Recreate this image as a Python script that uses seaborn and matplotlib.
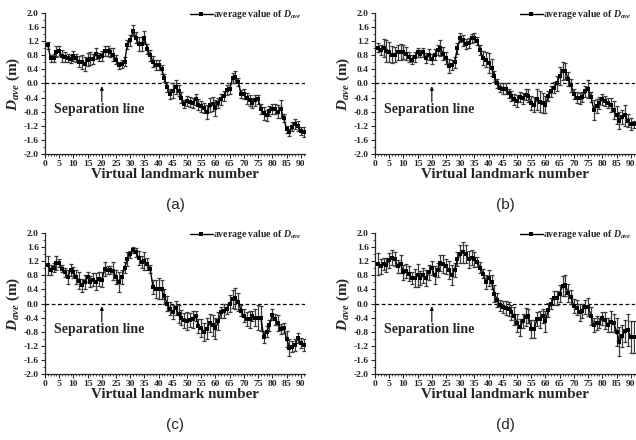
import numpy as np
import matplotlib
matplotlib.use("Agg")
import matplotlib.pyplot as plt
import seaborn as sns
from matplotlib.ticker import MultipleLocator

landmarks = list(range(1, 92))

vals_a = [1.08,0.72,0.72,0.90,0.92,0.78,0.75,0.72,0.70,0.78,
          0.72,0.62,0.62,0.55,0.68,0.70,0.70,0.85,0.75,0.78,
          0.92,0.92,0.88,0.82,0.68,0.52,0.55,0.62,1.10,1.22,
          1.50,1.30,1.12,1.12,1.30,0.98,0.80,0.62,0.52,0.52,
          0.40,0.15,-0.10,-0.30,-0.20,-0.10,-0.20,-0.40,-0.58,-0.50,
          -0.52,-0.55,-0.45,-0.60,-0.65,-0.70,-0.82,-0.62,-0.58,-0.70,
          -0.55,-0.45,-0.35,-0.18,-0.15,0.15,0.18,0.05,-0.30,-0.30,
          -0.42,-0.48,-0.55,-0.48,-0.45,-0.72,-0.85,-0.90,-0.78,-0.72,
          -0.72,-0.80,-0.72,-0.98,-1.30,-1.38,-1.22,-1.15,-1.20,-1.35,
          -1.38]
err_a = [0.10,0.10,0.12,0.15,0.15,0.18,0.15,0.12,0.12,0.15,
         0.12,0.15,0.20,0.20,0.18,0.18,0.15,0.15,0.12,0.15,
         0.15,0.15,0.12,0.18,0.12,0.10,0.12,0.12,0.12,0.15,
         0.15,0.15,0.20,0.20,0.18,0.15,0.15,0.15,0.15,0.15,
         0.12,0.12,0.15,0.15,0.20,0.20,0.15,0.15,0.12,0.15,
         0.15,0.15,0.15,0.15,0.15,0.15,0.20,0.20,0.20,0.22,
         0.15,0.15,0.15,0.15,0.15,0.15,0.18,0.12,0.12,0.15,
         0.15,0.15,0.15,0.15,0.12,0.15,0.18,0.15,0.15,0.15,
         0.15,0.18,0.25,0.12,0.10,0.10,0.12,0.15,0.15,0.12,
         0.15]

vals_b = [1.02,0.95,1.00,0.92,0.90,0.82,0.82,0.88,0.90,0.90,
          0.85,0.75,0.68,0.75,0.88,0.85,0.88,0.72,0.82,0.70,
          0.82,0.95,1.00,0.85,0.72,0.50,0.52,0.60,1.00,1.30,
          1.22,1.12,1.15,1.28,1.30,1.20,0.95,0.72,0.68,0.58,
          0.45,0.20,0.00,-0.12,-0.15,-0.15,-0.28,-0.35,-0.45,-0.50,
          -0.38,-0.42,-0.32,-0.35,-0.55,-0.60,-0.45,-0.52,-0.55,-0.60,
          -0.35,-0.22,-0.12,0.00,0.22,0.35,0.35,0.12,-0.05,-0.30,
          -0.40,-0.42,-0.38,-0.22,-0.15,-0.38,-0.75,-0.65,-0.55,-0.45,
          -0.50,-0.55,-0.60,-0.75,-0.90,-1.05,-0.95,-0.90,-1.05,-1.15,
          -1.15]
err_b = [0.12,0.15,0.25,0.30,0.28,0.25,0.22,0.20,0.22,0.20,
         0.18,0.15,0.12,0.15,0.12,0.10,0.12,0.15,0.15,0.15,
         0.15,0.15,0.22,0.18,0.18,0.20,0.15,0.15,0.15,0.12,
         0.15,0.15,0.15,0.12,0.12,0.12,0.15,0.20,0.22,0.28,
         0.25,0.15,0.12,0.12,0.15,0.15,0.12,0.15,0.15,0.18,
         0.15,0.15,0.15,0.18,0.20,0.22,0.30,0.30,0.28,0.25,
         0.15,0.15,0.15,0.20,0.25,0.25,0.22,0.20,0.18,0.15,
         0.15,0.15,0.15,0.15,0.25,0.15,0.28,0.20,0.18,0.15,
         0.15,0.15,0.20,0.25,0.25,0.25,0.20,0.30,0.18,0.18,
         0.10]

vals_c = [1.08,0.95,1.02,1.15,1.15,0.98,0.88,0.75,0.95,0.88,
          0.75,0.65,0.52,0.60,0.75,0.62,0.68,0.62,0.70,0.68,
          0.98,0.95,0.95,0.92,0.75,0.62,0.75,1.02,1.25,1.40,
          1.52,1.45,1.30,1.18,1.20,1.12,0.98,0.48,0.42,0.42,
          0.40,0.20,0.00,-0.15,-0.25,-0.12,-0.30,-0.40,-0.48,-0.50,
          -0.48,-0.45,-0.35,-0.65,-0.70,-0.80,-0.72,-0.55,-0.62,-0.70,
          -0.50,-0.25,-0.20,-0.15,0.00,0.12,0.15,0.05,-0.20,-0.35,
          -0.45,-0.45,-0.35,-0.40,-0.40,-0.42,-0.95,-0.80,-0.62,-0.32,
          -0.45,-0.55,-0.72,-0.70,-1.00,-1.25,-1.22,-1.18,-0.98,-1.12,
          -1.18]
err_c = [0.28,0.15,0.12,0.20,0.12,0.10,0.12,0.20,0.18,0.15,
         0.20,0.25,0.18,0.20,0.15,0.15,0.18,0.25,0.20,0.20,
         0.20,0.12,0.12,0.25,0.20,0.28,0.20,0.15,0.20,0.10,
         0.08,0.12,0.20,0.18,0.25,0.18,0.12,0.20,0.25,0.30,
         0.28,0.22,0.20,0.18,0.20,0.20,0.25,0.22,0.22,0.25,
         0.20,0.25,0.15,0.20,0.25,0.25,0.30,0.25,0.30,0.30,
         0.25,0.15,0.20,0.15,0.25,0.25,0.30,0.25,0.15,0.18,
         0.20,0.25,0.15,0.25,0.35,0.35,0.18,0.15,0.15,0.15,
         0.15,0.22,0.15,0.15,0.22,0.25,0.15,0.18,0.15,0.15,
         0.18]

vals_d = [1.12,1.05,1.12,1.10,1.22,1.30,1.25,1.05,1.12,0.88,
          0.92,0.85,0.72,0.72,0.80,0.72,0.80,0.72,0.88,1.00,
          0.80,0.95,1.15,1.12,1.05,0.95,0.80,0.95,1.25,1.40,
          1.45,1.40,1.25,1.30,1.25,1.18,1.02,0.85,0.62,0.72,
          0.60,0.28,0.10,-0.05,-0.10,-0.12,-0.15,-0.25,-0.35,-0.55,
          -0.68,-0.50,-0.38,-0.35,-0.72,-0.72,-0.45,-0.45,-0.35,-0.50,
          -0.18,0.00,0.15,0.15,0.28,0.50,0.52,0.30,0.18,-0.08,
          -0.12,-0.25,-0.20,-0.10,-0.10,-0.35,-0.60,-0.55,-0.55,-0.42,
          -0.48,-0.60,-0.52,-0.55,-0.80,-1.08,-0.92,-0.78,-0.75,-0.95,
          -0.95]
err_d = [0.30,0.22,0.18,0.20,0.20,0.22,0.20,0.18,0.25,0.20,
         0.20,0.20,0.18,0.25,0.32,0.20,0.22,0.22,0.20,0.20,
         0.25,0.20,0.22,0.25,0.20,0.25,0.28,0.20,0.20,0.25,
         0.30,0.25,0.25,0.22,0.22,0.15,0.15,0.12,0.20,0.22,
         0.20,0.25,0.20,0.15,0.18,0.20,0.20,0.22,0.25,0.25,
         0.25,0.20,0.25,0.20,0.25,0.25,0.20,0.25,0.20,0.30,
         0.20,0.15,0.20,0.20,0.25,0.28,0.30,0.25,0.20,0.20,
         0.22,0.25,0.20,0.20,0.25,0.25,0.20,0.20,0.15,0.18,
         0.25,0.20,0.30,0.25,0.40,0.40,0.30,0.30,0.45,0.45,
         0.45]

panels = [("(a)", vals_a, err_a), ("(b)", vals_b, err_b),
          ("(c)", vals_c, err_c), ("(d)", vals_d, err_d)]
x_ticks = list(range(0, 91, 5))
y_ticks = [-2.0, -1.6, -1.2, -0.8, -0.4, 0.0, 0.4, 0.8, 1.2, 1.6, 2.0]

sns.set_style("ticks")
plt.rcParams['font.family'] = ['Liberation Serif', 'DejaVu Serif']
plt.rcParams['mathtext.fontset'] = 'custom'
plt.rcParams['mathtext.rm'] = 'Liberation Serif:bold'
plt.rcParams['mathtext.it'] = 'Liberation Serif:bold:italic'
plt.rcParams['mathtext.bf'] = 'Liberation Serif:bold'

fig = plt.figure(figsize=(6.36, 4.40), dpi=100)
W, H = 636, 440
positions = [(45, 13), (375, 13), (45, 233), (375, 233)]
aw, ah = 260, 141

for (lab, vals, errs), (px, py) in zip(panels, positions):
    ax = fig.add_axes([px / W, 1 - (py + ah) / H, aw / W, ah / H])
    ax.axhline(0, color='black', lw=0.9, ls=(0, (3, 2)), zorder=1)
    ax.errorbar(landmarks, vals, yerr=errs, fmt='none', ecolor='#3a3a3a',
                elinewidth=0.9, capsize=1.6, capthick=0.9, zorder=2)
    sns.lineplot(x=landmarks, y=vals, ax=ax, color='black', lw=1.0,
                 marker='s', markersize=2.8, markeredgewidth=0,
                 label=r'average value of $D_{ave}$', zorder=3)
    ax.set_xlim(0, 91.5)
    ax.set_ylim(-2.0, 2.0)
    ax.set_xticks(x_ticks)
    ax.set_yticks(y_ticks)
    ax.set_yticklabels([f"{v:.1f}" for v in y_ticks])
    ax.xaxis.set_minor_locator(MultipleLocator(1))
    ax.yaxis.set_minor_locator(MultipleLocator(0.2))
    ax.tick_params(axis='both', which='major', labelsize=6.8, length=3,
                   width=0.8, pad=1.5)
    ax.tick_params(axis='both', which='minor', length=1.5, width=0.6)
    for t in ax.get_xticklabels() + ax.get_yticklabels():
        t.set_fontweight('bold')
    sns.despine(ax=ax)
    for s in ('left', 'bottom'):
        ax.spines[s].set_linewidth(0.9)
    ax.set_xlabel("Virtual landmark number", fontsize=10.8, fontweight='bold',
                  labelpad=0)
    ax.set_ylabel(r"$D_{ave}$ (m)", fontsize=11, fontweight='bold', labelpad=1)
    ax.annotate("", xy=(20, 0.0), xytext=(20, -0.6),
                arrowprops=dict(arrowstyle='-|>', color='black', lw=0.8,
                                mutation_scale=5))
    ax.text(3, -0.74, "Separation line", fontsize=10, fontweight='bold',
            va='center', ha='left')
    leg = ax.legend(loc='upper right', bbox_to_anchor=(1.0, 1.06),
                    frameon=False, fontsize=7, handlelength=2.3,
                    handletextpad=0.0, borderaxespad=0)
    for t in leg.get_texts():
        t.set_fontweight('bold')
    fig.text((px + 130) / W, 1 - (py + 192) / H, lab, fontsize=11,
             family='Liberation Sans', ha='center', va='center')

fig.savefig("out.png", dpi=100)
